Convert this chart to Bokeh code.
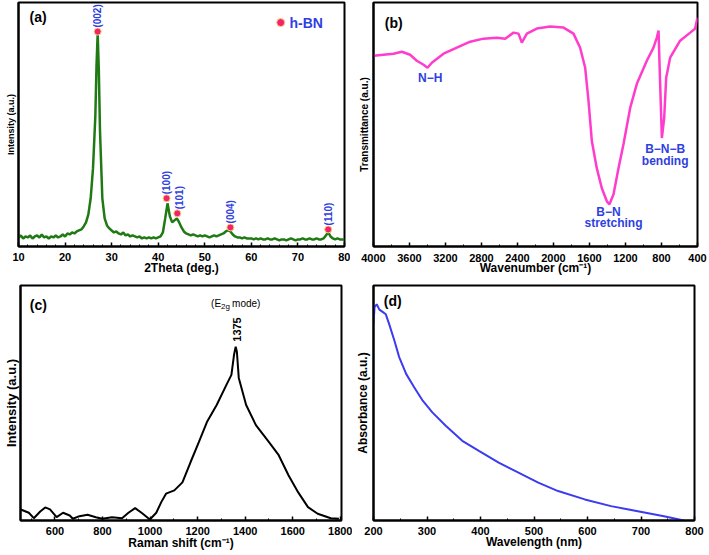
import numpy as np
from bokeh.plotting import figure
from bokeh.layouts import column, row
from bokeh.models import Range1d, FixedTicker, Label
from bokeh.embed import file_html
from bokeh.resources import INLINE

FONT = "Liberation Sans"
BLUE = "#2f3fe0"

# ---------------- (a) XRD ----------------
xrd_x = [10, 10.5, 11, 11.5, 12, 12.5, 13, 13.5, 14, 14.5,
         15, 15.5, 16, 16.5, 17, 17.5, 18, 18.5, 19, 19.5,
         20, 20.5, 21, 21.5, 22, 22.5, 23, 23.5, 24, 24.5,
         25, 25.5, 26, 26.5, 26.75, 27, 27.25, 27.5, 28, 28.5,
         29, 29.5, 30, 30.5, 31, 31.5, 32, 32.5, 33, 33.5,
         34, 34.5, 35, 35.5, 36, 36.5, 37, 37.5, 38, 38.5,
         39, 39.5, 40, 40.5, 41, 41.5, 42, 42.5, 43, 43.5,
         44, 44.5, 45, 45.5, 46, 46.5, 47, 47.5, 48, 48.5,
         49, 49.5, 50, 50.5, 51, 51.5, 52, 52.5, 53, 53.5,
         54, 54.5, 55, 55.5, 56, 56.5, 57, 57.5, 58, 58.5,
         59, 59.5, 60, 60.5, 61, 61.5, 62, 62.5, 63, 63.5,
         64, 64.5, 65, 65.5, 66, 66.5, 67, 67.5, 68, 68.5,
         69, 69.5, 70, 70.5, 71, 71.5, 72, 72.5, 73, 73.5,
         74, 74.5, 75, 75.5, 76, 76.5, 77, 77.5, 78, 78.5,
         79, 79.5, 80]
xrd_y = [9, 11, 8, 10, 9, 11, 8, 10, 11, 9,
         12, 9, 10, 8, 10, 9, 11, 9, 10, 12,
         10, 13, 12, 14, 13, 15, 16, 17, 20, 24,
         32, 48, 78, 130, 180, 212, 175, 115, 48, 28,
         21, 18, 16, 14, 15, 13, 12, 14, 11, 12,
         10, 11, 10, 9, 10, 8, 9, 8, 9, 8,
         9, 8, 9, 10, 14, 28, 43, 30, 24, 26,
         28, 24, 19, 15, 13, 12, 11, 12, 11, 10,
         11, 10, 11, 10, 9, 10, 11, 10, 11, 12,
         13, 15, 16, 15, 12, 10, 9, 9, 8, 9,
         8, 8, 8, 7, 8, 7, 8, 7, 7, 8,
         7, 7, 8, 7, 6, 7, 7, 6, 7, 8,
         7, 6, 7, 7, 8, 7, 7, 8, 7, 7,
         8, 7, 7, 8, 11, 14, 10, 8, 7, 8,
         7, 7, 7]
hkl_labels = ["(002)", "(100)", "(101)", "(004)", "(110)"]
hkl_marker_x = [27.0, 41.8, 44.1, 55.5, 76.5]
hkl_marker_y = [214, 48, 33, 19, 17]
hkl_label_x = [27.0, 41.8, 44.6, 55.5, 76.6]
hkl_label_y = [218, 52, 37, 23, 21]
xrd_ticks = [10, 20, 30, 40, 50, 60, 70, 80]

# ---------------- (b) FTIR ----------------
ftir_x = [4000, 3778, 3685, 3593, 3519, 3444, 3400, 3352, 3222, 3074,
          2926, 2778, 2630, 2537, 2444, 2389, 2352, 2296, 2185, 2037,
          1889, 1778, 1704, 1648, 1611, 1574, 1519, 1463, 1407, 1378,
          1333, 1278, 1222, 1148, 1074, 963, 889, 852, 833, 815,
          796, 770, 748, 704, 593, 481, 426, 400]
ftir_y = [190, 192, 194, 191, 185, 181, 178, 183, 192, 198,
          204, 207, 208, 207, 213, 212, 203, 212, 217, 219,
          218, 212, 198, 178, 145, 105, 78, 58, 45, 42,
          52, 78, 102, 138, 162, 185, 198, 208, 215, 162,
          108, 128, 168, 188, 205, 213, 217, 228]
ftir_ticks = [4000, 3600, 3200, 2800, 2400, 2000, 1600, 1200, 800, 400]

# ---------------- (c) Raman ----------------
raman_x = [456, 490, 511, 538, 559, 579, 607, 634, 662, 675,
           703, 737, 772, 799, 840, 882, 909, 937, 964, 999,
           1026, 1047, 1067, 1102, 1136, 1170, 1205, 1239, 1280, 1321,
           1342, 1353, 1360, 1365, 1373, 1404, 1445, 1500, 1541, 1582,
           1623, 1664, 1705, 1760, 1794]
raman_y = [11, 7.7, 2.3, 9, 13, 11, 3.3, 7.7, 5, 1.7,
           4.3, 5.7, 3.3, 1.7, 3.3, 2.3, 7.7, 12.3, 7.7, 1,
           7.7, 18.3, 26.7, 30, 38, 58, 78, 98, 115, 135,
           145, 165, 173, 168, 142, 115, 95, 78, 65, 45,
           28, 13.3, 6.7, 2.3, 1.7]
raman_ticks = [600, 800, 1000, 1200, 1400, 1600, 1800]

# ---------------- (d) UV-Vis ----------------
uv_x = [200, 202, 206, 211, 217, 223, 229, 239, 248, 261,
        276, 292, 310, 335, 366, 397, 434, 471, 508, 545,
        595, 644, 694, 743, 780]
uv_y = [196, 212.7, 215.3, 210, 207.7, 205.3, 196, 179.3, 162.7, 146,
        132.7, 119.3, 107.7, 94.3, 79.3, 69.3, 57.7, 47.7, 37.7, 29.3,
        21, 14.3, 9.3, 4.3, 0]
uv_ticks = [200, 300, 400, 500, 600, 700, 800]


def make_fig(x0, x1, y0, y1, w, h, bl, br, bt, bb, xticks, minor, xlabel, ylabel,
             ylsize, tick_so, xl_so, yl_so):
    p = figure(width=w, height=h, x_range=Range1d(x0, x1), y_range=Range1d(y0, y1),
               output_backend="svg", toolbar_location=None,
               min_border_left=bl, min_border_right=br,
               min_border_top=bt, min_border_bottom=bb)
    p.xgrid.visible = False
    p.ygrid.visible = False
    p.outline_line_color = "#000000"
    p.outline_line_width = 2
    p.outline_line_alpha = 1
    xa = p.xaxis[0]
    xa.ticker = FixedTicker(ticks=xticks, minor_ticks=minor)
    xa.axis_label = xlabel
    xa.axis_label_text_font = FONT
    xa.axis_label_text_font_size = "12px"
    xa.axis_label_text_font_style = "bold"
    xa.axis_label_text_color = "black"
    xa.axis_label_standoff = xl_so
    xa.major_label_text_font = FONT
    xa.major_label_text_font_size = "11px"
    xa.major_label_text_font_style = "bold"
    xa.major_label_text_color = "black"
    xa.major_label_standoff = tick_so
    xa.major_tick_in = 4
    xa.major_tick_out = 0
    xa.minor_tick_in = 2
    xa.minor_tick_out = 0
    xa.axis_line_color = "#000000"
    xa.axis_line_width = 2
    xa.major_tick_line_color = "#000000"
    xa.major_tick_line_width = 1.5
    xa.minor_tick_line_color = "#000000"
    ya = p.yaxis[0]
    ya.ticker = FixedTicker(ticks=[])
    ya.axis_label = ylabel
    ya.axis_label_text_font = FONT
    ya.axis_label_text_font_size = ylsize
    ya.axis_label_text_font_style = "bold"
    ya.axis_label_text_color = "black"
    ya.axis_label_standoff = yl_so
    ya.major_label_text_font_size = "0px"
    ya.major_label_standoff = 0
    ya.major_tick_out = 0
    ya.major_tick_in = 0
    ya.minor_tick_out = 0
    ya.minor_tick_in = 0
    ya.axis_line_color = "#000000"
    ya.axis_line_width = 2
    return p


def panel_label(p, txt, x, y):
    p.add_layout(Label(x=x, y=y, text=txt, text_font=FONT, text_font_size="14px",
                       text_font_style="bold", text_color="black",
                       text_align="center", text_baseline="middle"))


def blue_text(p, txt, x, y, size="12px", angle=0.0, align="center", style="bold"):
    p.add_layout(Label(x=x, y=y, text=txt, text_font=FONT, text_font_size=size,
                       text_font_style=style, text_color=BLUE, angle=angle,
                       text_align=align, text_baseline="middle"))


# ---- panel a
pa = make_fig(10, 80, 0, 243, 350, 277, 18, 6, 2, 30,
              xrd_ticks, [12, 14, 16, 18, 22, 24, 26, 28, 32, 34, 36, 38, 42, 44, 46, 48,
                          52, 54, 56, 58, 62, 64, 66, 68, 72, 74, 76, 78],
              "2Theta (deg.)", "Intensity (a.u.)", "9px", 6, -3, 3)
pa.line(xrd_x, xrd_y, line_color="#1f7a14", line_width=2.5)
pa.scatter(hkl_marker_x, hkl_marker_y, marker="circle", size=7,
           fill_color="#f5206e", line_color="#f3d27a", line_width=1)
for t, x, y in zip(hkl_labels, hkl_label_x, hkl_label_y):
    blue_text(pa, t, x, y, size="10px", angle=np.pi / 2, align="left")
pa.scatter([66.3], [223], marker="circle", size=8,
           fill_color="#f5206e", line_color="#f3d27a", line_width=1)
blue_text(pa, "h-BN", 68.2, 223, size="14px", align="left")
panel_label(pa, "(a)", 14.2, 229)

# ---- panel b
pb = make_fig(4000, 400, 0, 243, 358, 277, 23, 11, 2, 30,
              ftir_ticks, [3800, 3400, 3000, 2600, 2200, 1800, 1400, 1000, 600],
              "Wavenumber (cm\u207b\u00b9)", "Transmittance (a.u.)", "10px", 7, -4, 4)
pb.line(ftir_x, ftir_y, line_color="#ff3ccb", line_width=2.5)
blue_text(pb, "N\u2212H", 3370, 168)
blue_text(pb, "B\u2212N", 1389, 34)
blue_text(pb, "stretching", 1333, 23)
blue_text(pb, "B\u2212N\u2212B", 759, 97)
blue_text(pb, "bending", 759, 85)
panel_label(pb, "(b)", 3775, 223)

# ---- panel c
pc = make_fig(455, 1805, 0, 234, 352, 277, 17, 11, 7, 34,
              raman_ticks, [500, 700, 900, 1100, 1300, 1500, 1700],
              "Raman shift (cm\u207b\u00b9)", "Intensity (a.u.)", "13px", 6, -2, 2)
pc.line(raman_x, raman_y, line_color="black", line_width=2)
pc.add_layout(Label(x=1370, y=216, text="(E", x_offset=-27, text_font=FONT,
                    text_font_size="10px", text_color="black",
                    text_align="left", text_baseline="middle"))
pc.add_layout(Label(x=1370, y=216, text="2g", x_offset=-17, y_offset=-3, text_font=FONT,
                    text_font_size="8px", text_color="black",
                    text_align="left", text_baseline="middle"))
pc.add_layout(Label(x=1370, y=216, text=" mode)", x_offset=-6, text_font=FONT,
                    text_font_size="10px", text_color="black",
                    text_align="left", text_baseline="middle"))
pc.add_layout(Label(x=1366, y=178, text="1375", angle=np.pi / 2, text_font=FONT,
                    text_font_size="11px", text_font_style="bold", text_color="black",
                    text_align="left", text_baseline="middle"))
panel_label(pc, "(c)", 530, 215)

# ---- panel d
pd_ = make_fig(200, 800, 0, 234, 356, 277, 19, 14, 8, 34,
               uv_ticks, [250, 350, 450, 550, 650, 750],
               "Wavelength (nm)", "Absorbance (a.u.)", "12px", 6, -3, 4)
pd_.line(uv_x, uv_y, line_color="#3b3bef", line_width=2)
panel_label(pd_, "(d)", 236, 219)

layout = column(row(pa, pb), row(pc, pd_))
open("out.html", "w").write(file_html(layout, INLINE))
